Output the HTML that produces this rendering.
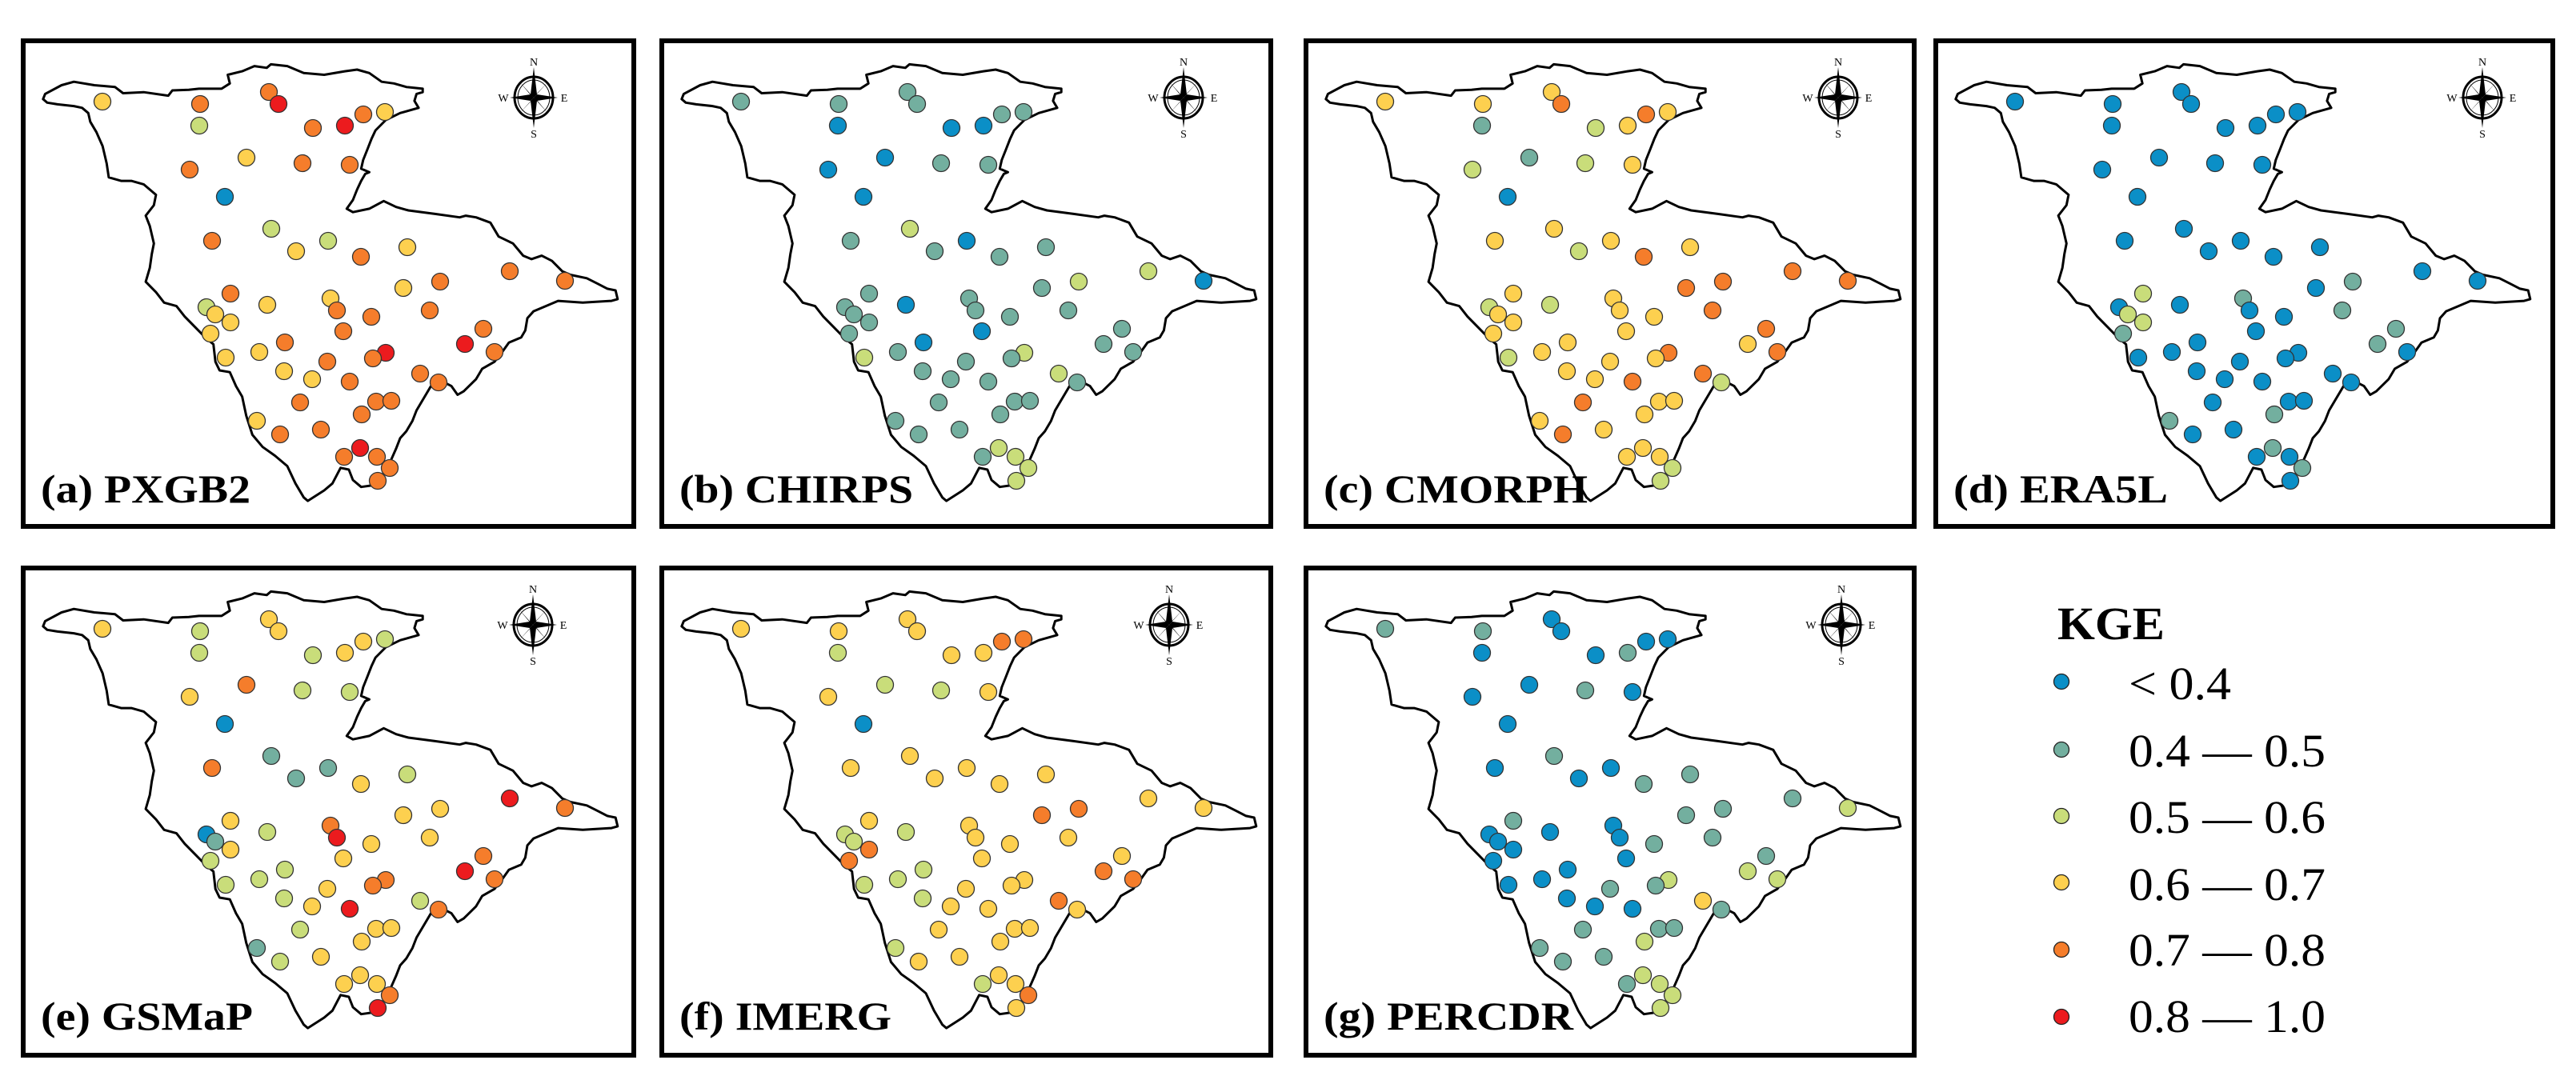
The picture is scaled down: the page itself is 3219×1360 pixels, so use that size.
<!DOCTYPE html>
<html><head><meta charset="utf-8"><style>
html,body{margin:0;padding:0;background:#fff;}
svg{display:block;}
</style></head><body>
<svg id="fig" xmlns="http://www.w3.org/2000/svg" width="3219" height="1360" viewBox="0 0 3219 1360">
<rect x="0" y="0" width="3219" height="1360" fill="#fff"/>
<g id="panels"></g>
<g id="legend">
  <text x="2571" y="799" font-family="Liberation Serif, serif" font-weight="bold" font-size="58" textLength="134" lengthAdjust="spacingAndGlyphs">KGE</text>
</g>
</svg>
<script>
const NS='http://www.w3.org/2000/svg';
// ---- data ----
const panelNames=['(a) PXGB2','(b) CHIRPS','(c) CMORPH','(d) ERA5L','(e) GSMaP','(f) IMERG','(g) PERCDR'];
const classBreaks=[0.4,0.5,0.6,0.7,0.8];
const classLabels=['< 0.4','0.4 — 0.5','0.5 — 0.6','0.6 — 0.7','0.7 — 0.8','0.8 — 1.0'];
const classColors=['#0b8fc7','#73af9f','#c9dd7a','#fdd04f','#f57d2b','#ec1b1e'];
const stationX=[102,224,223,310,322,365,405,428,455,282,211,352,411,255,313,239,344,384,425,483,611,680,478,524,262,308,387,395,232,243,262,438,511,237,403,578,330,555,298,456,440,592,256,383,329,364,411,499,522,349,444,463,426,295,375,324,424,404,445,461,446];
const stationY=[79,82,109,67,82,112,109,95,92,149,164,156,158,198,238,253,266,253,273,261,291,303,312,304,319,333,325,340,336,345,355,348,340,369,366,363,380,382,392,393,400,392,399,404,416,426,429,419,430,455,454,453,470,478,489,495,512,523,523,537,553];
const kgeA=[.65,.75,.55,.75,.85,.75,.85,.75,.65,.65,.75,.75,.75,.35,.55,.75,.65,.55,.75,.65,.75,.75,.65,.75,.75,.65,.65,.75,.55,.65,.65,.75,.75,.65,.75,.75,.75,.85,.65,.85,.75,.75,.65,.75,.65,.65,.75,.75,.75,.75,.75,.75,.75,.65,.75,.75,.85,.75,.75,.75,.75];
const kgeB=[.45,.45,.35,.45,.45,.35,.35,.45,.45,.35,.35,.45,.45,.35,.55,.45,.45,.35,.45,.45,.55,.35,.45,.55,.45,.35,.45,.45,.45,.45,.45,.45,.45,.45,.35,.45,.35,.45,.45,.55,.45,.45,.55,.45,.45,.45,.45,.55,.45,.45,.45,.45,.45,.45,.45,.45,.55,.45,.55,.55,.55];
const kgeC=[.65,.65,.45,.65,.75,.55,.65,.75,.65,.45,.55,.55,.65,.35,.65,.65,.55,.65,.75,.65,.75,.75,.75,.75,.65,.55,.65,.65,.55,.65,.65,.65,.75,.65,.65,.75,.65,.65,.65,.75,.65,.75,.55,.65,.65,.65,.75,.75,.55,.75,.65,.65,.65,.65,.65,.75,.65,.65,.65,.55,.55];
const kgeD=[.35,.35,.35,.35,.35,.35,.35,.35,.35,.35,.35,.35,.35,.35,.35,.35,.35,.35,.35,.35,.35,.35,.35,.45,.55,.35,.45,.35,.35,.55,.55,.35,.45,.45,.35,.45,.35,.45,.35,.35,.35,.35,.35,.35,.35,.35,.35,.35,.35,.35,.35,.35,.45,.45,.35,.35,.45,.35,.35,.45,.35];
const kgeE=[.65,.55,.55,.65,.65,.55,.65,.65,.55,.75,.65,.55,.55,.35,.45,.75,.45,.45,.65,.55,.85,.75,.65,.65,.65,.55,.75,.85,.35,.45,.65,.65,.65,.55,.65,.75,.55,.85,.55,.75,.75,.75,.55,.65,.55,.65,.85,.55,.75,.55,.65,.65,.65,.45,.65,.55,.65,.65,.65,.75,.85];
const kgeF=[.65,.65,.55,.65,.65,.65,.65,.75,.75,.55,.65,.55,.65,.35,.65,.65,.65,.65,.65,.65,.65,.65,.75,.75,.65,.55,.65,.65,.55,.55,.75,.65,.65,.75,.65,.65,.55,.75,.55,.65,.65,.75,.55,.65,.55,.65,.65,.75,.65,.65,.65,.65,.65,.55,.65,.65,.65,.55,.65,.75,.65];
const kgeG=[.45,.45,.35,.35,.35,.35,.45,.35,.35,.35,.35,.45,.35,.35,.45,.35,.35,.35,.45,.45,.45,.55,.45,.45,.45,.35,.35,.35,.35,.35,.35,.45,.45,.35,.35,.45,.35,.55,.35,.55,.45,.55,.35,.45,.35,.35,.35,.65,.45,.45,.45,.45,.55,.45,.45,.45,.55,.45,.55,.55,.55];
const panelKge=[kgeA,kgeB,kgeC,kgeD,kgeE,kgeF,kgeG];
// ---- layout ----
const panelX=[26,824,1629,2416,26,824,1629];
const panelY=[48,48,48,48,707,707,707];
const panelW=[769,767,766,777,769,767,766];
const panelH=[613,613,613,613,615,615,615];
const labelW=[262,292,330,268,265,265,312];
const compassX=[641,655,668,686,640,637,672];
const outlinePts=[[105,285],[110,270],[150,245],[180,235],[230,245],[280,250],[300,268],[350,265],[410,275],[420,260],[460,258],[485,255],[540,255],[560,240],[555,215],[590,205],[620,190],[650,195],[660,185],[700,190],[740,210],[790,215],[840,205],[870,200],[900,210],[930,235],[960,240],[990,250],[1030,255],[1030,265],[1015,270],[1010,290],[1020,310],[975,325],[940,345],[915,375],[905,400],[895,430],[885,460],[880,485],[900,495],[890,500],[880,520],[870,545],[860,575],[845,600],[860,610],[900,600],[935,578],[965,595],[995,605],[1060,615],[1120,625],[1135,620],[1160,625],[1195,640],[1215,680],[1250,700],[1275,735],[1295,745],[1320,735],[1345,750],[1370,780],[1390,790],[1430,800],[1455,815],[1480,830],[1500,835],[1505,860],[1490,865],[1420,870],[1360,865],[1330,880],[1300,895],[1285,915],[1280,950],[1270,970],[1240,985],[1225,1010],[1205,1040],[1175,1060],[1160,1090],[1130,1125],[1115,1135],[1100,1110],[1075,1095],[1050,1110],[1030,1150],[1015,1180],[1005,1210],[990,1240],[975,1260],[965,1290],[950,1330],[930,1370],[910,1395],[880,1400],[860,1380],[850,1350],[830,1345],[810,1390],[790,1410],[750,1440],[740,1430],[720,1390],[700,1340],[670,1310],[640,1285],[615,1250],[600,1195],[590,1140],[575,1110],[560,1070],[535,1065],[525,1040],[520,990],[500,970],[475,940],[450,910],[430,880],[400,870],[380,840],[355,810],[365,770],[370,730],[375,700],[365,650],[355,620],[375,590],[380,560],[350,530],[320,520],[295,520],[265,510],[260,470],[250,420],[235,380],[220,350],[215,325],[200,310],[180,305],[140,300],[115,295]];

function colorOf(v){let c=0;while(c<classBreaks.length&&v>=classBreaks[c])c++;return classColors[c];}
function mk(tag,attrs,parent){const e=document.createElementNS(NS,tag);for(const k in attrs)e.setAttribute(k,attrs[k]);if(parent)parent.appendChild(e);return e;}
const outlineD='M'+outlinePts.map(p=>(p[0]/1.95-26).toFixed(1)+','+(p[1]/2.3-48).toFixed(1)).join(' L')+' Z';

const root=document.getElementById('panels');
for(let p=0;p<panelNames.length;p++){
  const g=mk('g',{transform:`translate(${panelX[p]},${panelY[p]})`},root);
  
  
  const box=mk('rect',{x:3,y:3,width:panelW[p]-6,height:panelH[p]-6,fill:'#fff',stroke:'#000','stroke-width':6},g);
  
  
  const ol=mk('path',{d:outlineD,fill:'none',stroke:'#000','stroke-width':3,'stroke-linejoin':'round'},g);
  
  
  const cg=mk('g',{transform:`translate(${compassX[p]},74)`},g);
  
  
  mk('ellipse',{cx:0,cy:0,rx:24,ry:26,fill:'none',stroke:'#000','stroke-width':3},cg);
  mk('ellipse',{cx:0,cy:0,rx:20,ry:22,fill:'none',stroke:'#000','stroke-width':1},cg);
  mk('polygon',{points:'0,-38 4,-4 0,0 -4,-4',fill:'#000'},cg);
  mk('polygon',{points:'0,38 4,4 0,0 -4,4',fill:'#000'},cg);
  mk('polygon',{points:'-30,0 -4,-4 0,0 -4,4',fill:'#000'},cg);
  mk('polygon',{points:'30,0 4,-4 0,0 4,4',fill:'#000'},cg);
  mk('polygon',{points:'-18,-20 0,0 -3,-2',fill:'#000'},cg);
  mk('polygon',{points:'18,20 0,0 3,2',fill:'#000'},cg);
  mk('polygon',{points:'18,-20 0,0 2,-3',fill:'#000'},cg);
  mk('polygon',{points:'-18,20 0,0 -2,3',fill:'#000'},cg);
  [['N',0,-40],['S',0,50],['W',-38,5],['E',38,5]].forEach(t=>{
    const tx=mk('text',{x:t[1],y:t[2],'text-anchor':'middle','font-family':'Liberation Serif, serif','font-size':14},cg);tx.textContent=t[0];
  });
  const vals=panelKge[p];
  for(let i=0;i<stationX.length;i++){
    const c=mk('circle',{cx:stationX[i],cy:stationY[i],r:10.5,fill:colorOf(vals[i]),stroke:'#333','stroke-width':1.3},g);
    
    
  }
  const lb=mk('text',{x:25,y:580,'font-family':'Liberation Serif, serif','font-weight':'bold','font-size':50,textLength:labelW[p],lengthAdjust:'spacingAndGlyphs'},g);
  lb.textContent=panelNames[p];
  
  
}
const legDotY=[852,937,1020,1103,1187,1271];
const legTextY=[874,958,1041,1125,1207,1290];
const lg=document.getElementById('legend');
for(let k=0;k<classLabels.length;k++){
  const d=mk('circle',{cx:2576,cy:legDotY[k],r:9.5,fill:classColors[k],stroke:'#222','stroke-width':1.3},lg);
  
  
  const t=mk('text',{x:2660,y:legTextY[k],'font-family':'Liberation Serif, serif','font-size':58,textLength:k===0?128:246,lengthAdjust:'spacingAndGlyphs'},lg);
  t.textContent=classLabels[k];
  
  
}
</script>
</body></html>
